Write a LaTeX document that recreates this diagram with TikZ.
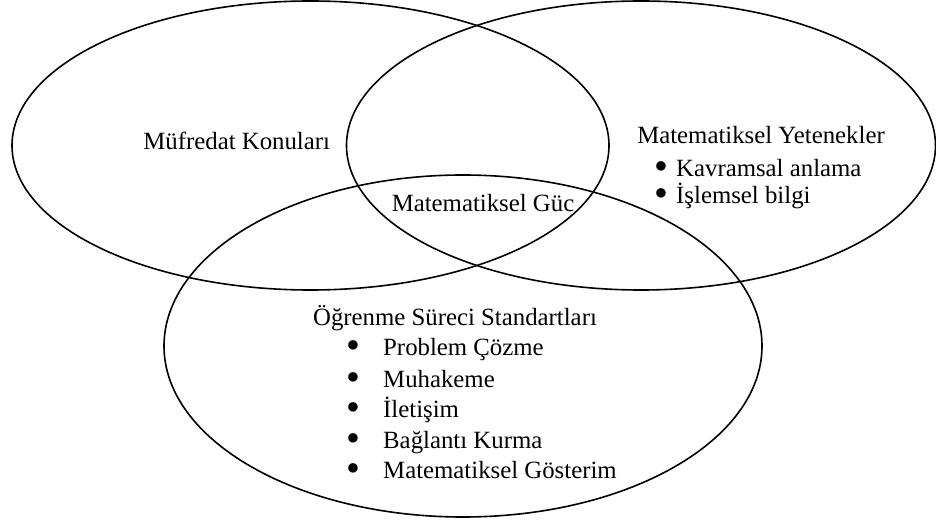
\documentclass[tikz,border=0pt]{standalone}
\usepackage{fontspec}
\setmainfont{Liberation Serif}
\begin{document}
\begin{tikzpicture}[x=1bp,y=-1bp,
  ring/.style={draw=black,line width=1.6bp},
  lbl/.style={inner sep=0pt,anchor=base,font=\fontsize{24.8bp}{30bp}\selectfont},
  lbll/.style={inner sep=0pt,anchor=base west,font=\fontsize{24.8bp}{30bp}\selectfont}]
\newcommand{\bigbul}{\raisebox{-3bp}{\scalebox{1.6}{\textbullet}}}
\newcommand{\itemA}[1]{\makebox[30bp][c]{\bigbul}#1}
\newcommand{\itemB}[1]{\makebox[60bp][c]{\bigbul}#1}
\useasboundingbox (0,0) rectangle (936,520);
\fill[white] (0,0) rectangle (936,520);
\draw[ring] (310.5,145.5) ellipse [x radius=298.5bp, y radius=144.5bp];
\draw[ring] (641,145.5) ellipse [x radius=294.5bp, y radius=144.5bp];
\draw[ring] (463,346) ellipse [x radius=299bp, y radius=171bp];
% left
\node[lbl] (mk) at (236.7,150) {Müfredat Konuları};
% center
\node[lbl] (mg) at (483,212) {Matematiksel Güc};
% right
\node[lbl] (my) at (761,144) {Matematiksel Yetenekler};
\node[lbll] (ka) at (646,177) {\itemA{Kavramsal anlama}};
\node[lbll] (ib) at (646,204) {\itemA{İşlemsel bilgi}};
% bottom
\node[lbl] (os) at (455,326) {Öğrenme Süreci Standartları};
\node[lbll] (pc) at (323,356) {\itemB{Problem Çözme}};
\node[lbll] (mu) at (323,387) {\itemB{Muhakeme}};
\node[lbll] (il) at (323,417.5) {\itemB{İletişim}};
\node[lbll] (bk) at (323,448) {\itemB{Bağlantı Kurma}};
\node[lbll] (gs) at (323,478) {\itemB{Matematiksel Gösterim}};
\end{tikzpicture}
\end{document}
